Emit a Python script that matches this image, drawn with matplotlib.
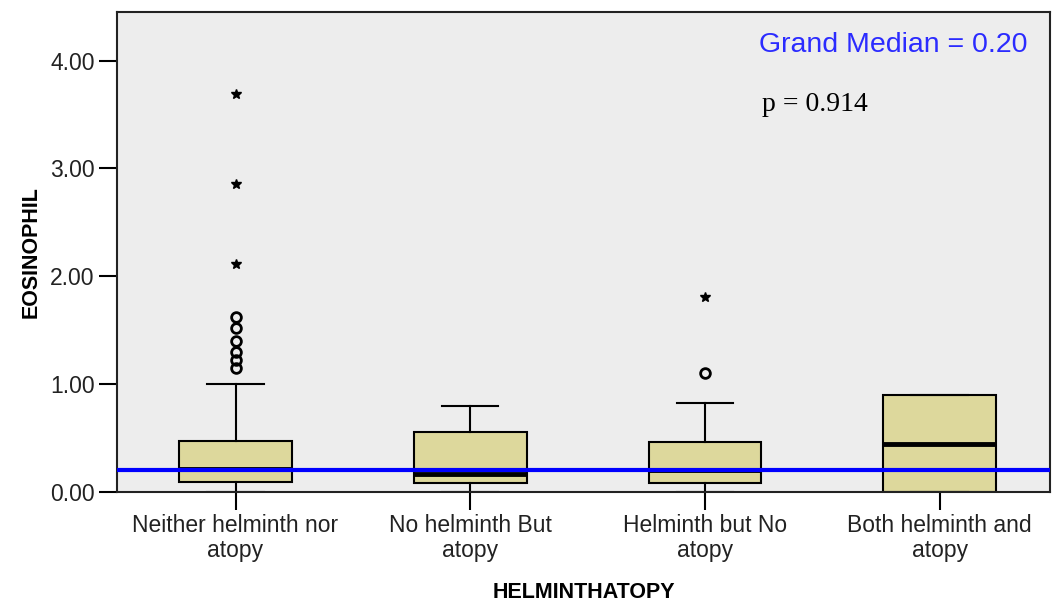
import matplotlib
matplotlib.use("Agg")
import matplotlib.pyplot as plt

categorias = ["Neither helminth nor\natopy", "No helminth But\natopy",
              "Helminth but No\natopy", "Both helminth and\natopy"]
q1 = [0.09, 0.08, 0.08, 0.00]
mediana = [0.21, 0.17, 0.20, 0.45]
q3 = [0.47, 0.56, 0.46, 0.90]
bigote_inf = [0.00, 0.00, 0.00, 0.00]
bigote_sup = [1.00, 0.80, 0.83, 0.90]
outliers_circulo = [[1.62, 1.52, 1.40, 1.30, 1.22, 1.15], [], [1.10], []]
outliers_estrella = [[3.69, 2.86, 2.11], [], [1.81], []]
gran_mediana = 0.20
p_valor = 0.914
yticks = [0.0, 1.0, 2.0, 3.0, 4.0]

plt.rcParams["font.family"] = ["Liberation Sans", "DejaVu Sans"]

fig = plt.figure(figsize=(10.58, 6.03), dpi=100)
ax = fig.add_axes([0.1106, 0.184, 0.9924 - 0.1106, 0.796])
ax.set_facecolor("#ededed")

stats = []
for i in range(len(categorias)):
    stats.append({"whislo": bigote_inf[i], "q1": q1[i], "med": mediana[i],
                  "q3": q3[i], "whishi": bigote_sup[i], "fliers": []})

pos = range(1, len(categorias) + 1)
ax.bxp(stats, positions=pos, widths=0.48, patch_artist=True, showfliers=False,
       boxprops=dict(facecolor="#ddd89c", edgecolor="black", linewidth=1.5),
       medianprops=dict(color="black", linewidth=3.5),
       whiskerprops=dict(color="black", linewidth=1.5),
       capprops=dict(color="black", linewidth=1.5), zorder=2)

# atipicos: circulos y extremos (estrellas)
for x, vals in zip(pos, outliers_circulo):
    if vals:
        ax.plot([x] * len(vals), vals, "o", mfc="none", mec="black",
                mew=2, ms=7, zorder=3)
for x, vals in zip(pos, outliers_estrella):
    if vals:
        ax.plot([x] * len(vals), vals, "*", color="black", ms=7, zorder=3)

ax.axhline(gran_mediana, color="#0000ff", lw=3, zorder=4)

ax.text(0.688, 0.931, f"Grand Median = {gran_mediana:.2f}", transform=ax.transAxes,
        color="#2b2bff", fontsize=20.5, ha="left", va="center")
ax.text(0.691, 0.808, f"p = {p_valor}", transform=ax.transAxes,
        family="Liberation Serif", fontsize=20, ha="left", va="center")

ax.set_xlim(0.495, 4.47)
ax.set_ylim(0, 4.45)
ax.set_xticks(list(pos))
ax.set_xticklabels(categorias, fontsize=16.5, color="#222222", linespacing=1.1)
ax.set_yticks(yticks)
ax.set_yticklabels([f"{v:.2f}" for v in yticks], fontsize=16.5, color="#222222")
ax.tick_params(axis="both", length=13, width=1.5, direction="out", pad=3)

for s in ax.spines.values():
    s.set_linewidth(1.5)
    s.set_color("#222222")

ax.set_xlabel("HELMINTHATOPY", fontsize=15.5, fontweight="bold", labelpad=14)
ax.set_ylabel("EOSINOPHIL", fontsize=15.5, fontweight="bold", labelpad=6)

fig.savefig("out.png", dpi=100)
